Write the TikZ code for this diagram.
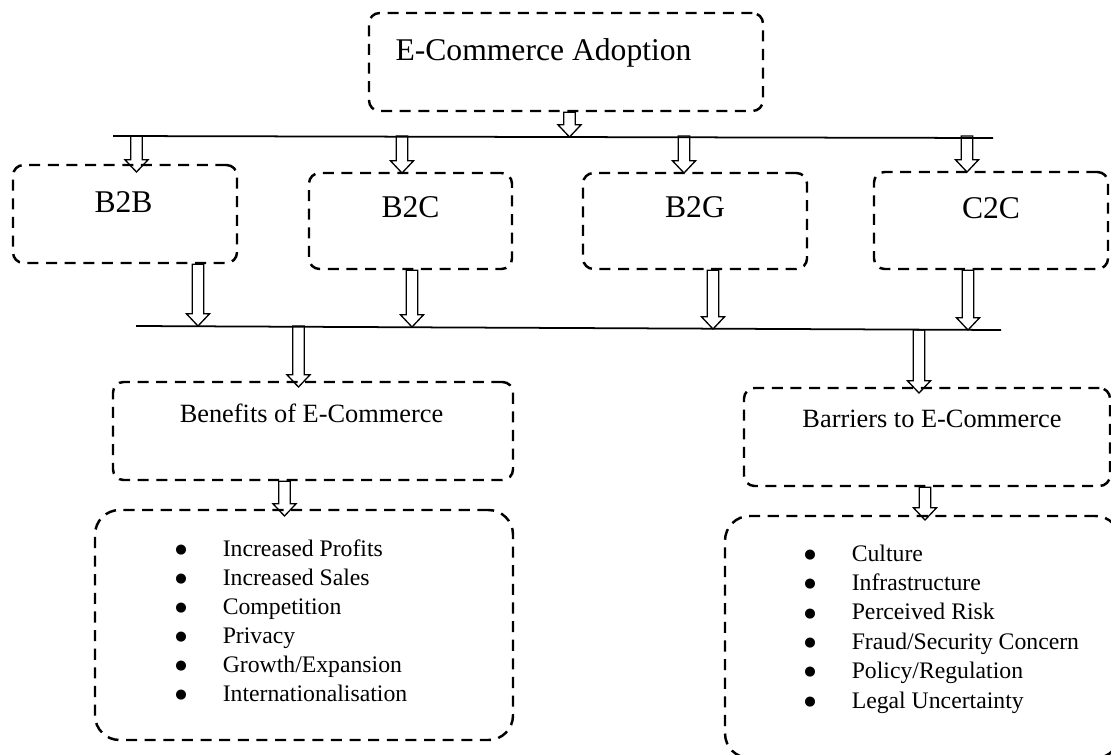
\documentclass[tikz,border=0pt]{standalone}
\usepackage{fontspec}
\setmainfont{Liberation Serif}
\newfontfamily\dotfont{DejaVu Sans}
\usetikzlibrary{
    calc, % for the hollow block arrows
    fit % to size the dashed boxes from their corners
}

\newcommand{\itemdot}{\makebox[27pt][l]{\raisebox{1.6pt}{\dotfont\fontsize{7.5}{7.5}\selectfont ●}}}

\begin{document}
\begin{tikzpicture}[
    x=0.02cm,y=-0.02cm,
    box/.style        = {draw,line width=1.4pt,dash pattern=on 6.3pt off 4.3pt,rounded corners=6pt,inner sep=0pt},
    listbox/.style    = {box,rounded corners=14pt},
    busline/.style    = {line width=1pt},
    bigtext/.style    = {font=\fontsize{18}{21}\selectfont,anchor=base,inner sep=0pt},
    headtext/.style   = {font=\fontsize{15}{18}\selectfont,anchor=base,inner sep=0pt},
    item/.style       = {font=\fontsize{13.5}{16.5}\selectfont,anchor=base west,inner sep=0pt},
    blockarrow/.style = {draw,line width=0.75pt,line join=miter,to path={
        let \p1=(\tikztostart), \p2=(\tikztotarget) in
        (\x1-3.3pt,\y1) -- (\x1-3.3pt,\y2+7pt) -- (\x1-6.6pt,\y2+7pt) -- (\x1,\y2)
        -- (\x1+6.6pt,\y2+7pt) -- (\x1+3.3pt,\y2+7pt) -- (\x1+3.3pt,\y1) -- cycle}}
]
\clip (0,0) rectangle (1111,754);

% Dashed boxes

    \node [box,fit={(369,13) (763,111)}]      (adopt)    {};
    \node [box,fit={(13,165) (237,263)}]      (b2b)      {};
    \node [box,fit={(309,173) (512,269)}]     (b2c)      {};
    \node [box,fit={(583,173) (807,269)}]     (b2g)      {};
    \node [box,fit={(874,172) (1108,269)}]    (c2c)      {};
    \node [box,fit={(113,382) (513,480)}]     (benefits) {};
    \node [box,fit={(744,388) (1110,486)}]    (barriers) {};
    \node [listbox,fit={(95,510) (513,740)}]  (benlist)  {};
    \node [listbox,fit={(725,516) (1120,758)}] (barlist) {};

% Labels

    \node [bigtext]  (adoptlbl) at (543.5,60.5) {E-Commerce Adoption};
    \node [bigtext]  (b2blbl)   at (123.5,212)  {B2B};
    \node [bigtext]  (b2clbl)   at (410.5,217)  {B2C};
    \node [bigtext]  (b2glbl)   at (695,217)    {B2G};
    \node [bigtext]  (c2clbl)   at (991,218)    {C2C};
    \node [headtext] (benlbl)   at (311.5,422)  {Benefits of E-Commerce};
    \node [headtext] (barlbl)   at (932,427)    {Barriers to E-Commerce};

    \foreach \t [count=\i] in {Increased Profits,Increased Sales,Competition,Privacy,Growth/Expansion,Internationalisation}
        \node [item] (ben\i) at (175,{556+29*(\i-1)}) {\itemdot\t};
    \foreach \t [count=\i] in {Culture,Infrastructure,Perceived Risk,Fraud/Security Concern,Policy/Regulation,Legal Uncertainty}
        \node [item] (bar\i) at (804,{561+29.4*(\i-1)}) {\itemdot\t};

% Bus lines

    \coordinate (l1w) at (113,136);
    \coordinate (l1e) at (993,138);
    \coordinate (l2w) at (136,326);
    \coordinate (l2e) at (1001,330);
    \draw [busline] (l1w) -- (l1e);
    \draw [busline] (l2w) -- (l2e);

% Arrow tips

    \coordinate (topt)  at (569.5,137);
    \coordinate (tb2b)  at (136.5,172);
    \coordinate (tb2c)  at (402,173);
    \coordinate (tb2g)  at (684,173);
    \coordinate (tc2c)  at (967,172);
    \coordinate (ub2b)  at (198,326);
    \coordinate (ub2c)  at (412,327);
    \coordinate (ub2g)  at (713,329);
    \coordinate (uc2c)  at (968,330);
    \coordinate (tben)  at (298.5,387);
    \coordinate (tbar)  at (919,393);
    \coordinate (tbenl) at (284.5,516);
    \coordinate (tbarl) at (925,520);

% Arrows

    \draw [blockarrow] (adopt.south -| topt) to (topt);
    \foreach \b in {b2b,b2c,b2g,c2c} {
        \draw [blockarrow] (t\b |- l1w) to (t\b);
        \draw [blockarrow] (\b.south -| u\b) to (u\b);
    }
    \draw [blockarrow] (tben |- l2w) to (tben);
    \draw [blockarrow] (tbar |- l2e) to (tbar);
    \draw [blockarrow] (benefits.south -| tbenl) to (tbenl);
    \draw [blockarrow] (barriers.south -| tbarl) to (tbarl);

\end{tikzpicture}
\end{document}
